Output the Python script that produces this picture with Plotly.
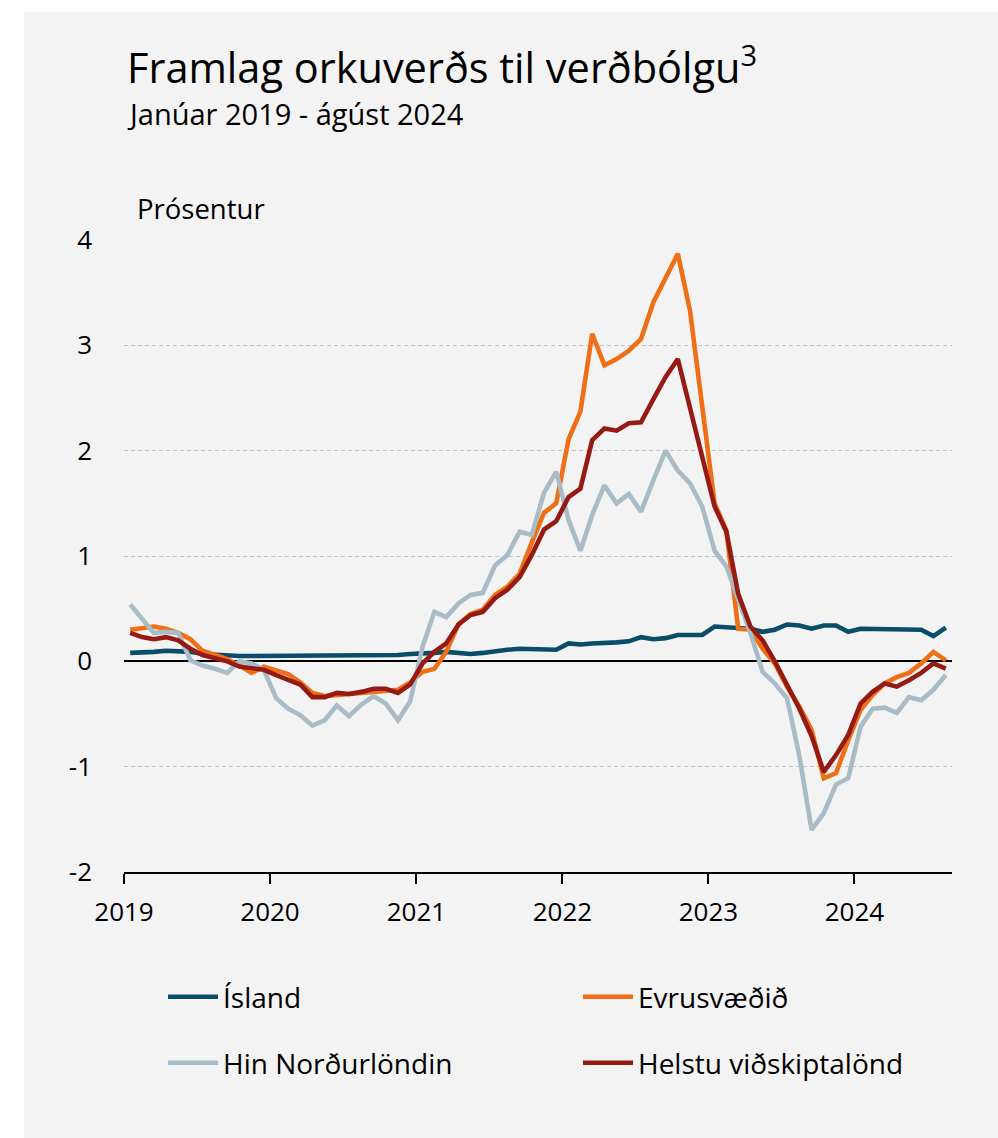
import pandas as pd
import plotly.graph_objects as go

# ---- data (monthly, January 2019 - August 2024) ----
months = pd.date_range("2019-01-01", periods=68, freq="MS")

island = [0.08, 0.08, 0.09, 0.10, 0.10, 0.09, 0.07, 0.06, 0.05, 0.05, 0.05, 0.05,
          0.05, 0.06, 0.06, 0.06, 0.05, 0.05, 0.05, 0.06, 0.06, 0.06, 0.06, 0.07,
          0.07, 0.08, 0.09, 0.08, 0.07, 0.08, 0.10, 0.11, 0.12, 0.12, 0.12, 0.11,
          0.17, 0.16, 0.17, 0.17, 0.18, 0.19, 0.23, 0.21, 0.22, 0.25, 0.25, 0.25,
          0.33, 0.32, 0.32, 0.31, 0.28, 0.30, 0.35, 0.34, 0.31, 0.34, 0.34, 0.28,
          0.31, 0.31, 0.30, 0.30, 0.30, 0.30, 0.24, 0.32]

evrusvaedid = [0.30, 0.31, 0.33, 0.31, 0.27, 0.21, 0.10, 0.06, 0.02, -0.04, -0.11, -0.05,
               -0.08, -0.12, -0.20, -0.30, -0.33, -0.32, -0.32, -0.30, -0.30, -0.29, -0.27, -0.20,
               -0.10, -0.07, 0.09, 0.35, 0.45, 0.49, 0.63, 0.71, 0.83, 1.13, 1.41, 1.50,
               2.11, 2.37, 3.11, 2.81, 2.87, 2.95, 3.06, 3.41, 3.63, 3.87, 3.33, 2.40,
               1.50, 1.24, 0.31, 0.30, 0.12, -0.02, -0.24, -0.43, -0.65, -1.11, -1.06, -0.75,
               -0.46, -0.32, -0.21, -0.15, -0.11, -0.02, 0.09, 0.01]

nordurlond = [0.54, 0.41, 0.27, 0.28, 0.27, 0.01, -0.04, -0.07, -0.11, 0.00, -0.02, -0.08,
              -0.35, -0.45, -0.51, -0.61, -0.56, -0.42, -0.52, -0.41, -0.33, -0.40, -0.56, -0.38,
              0.14, 0.47, 0.42, 0.55, 0.63, 0.65, 0.91, 1.01, 1.23, 1.20, 1.60, 1.80,
              1.34, 1.05, 1.39, 1.67, 1.50, 1.59, 1.42, 1.72, 2.00, 1.81, 1.69, 1.47,
              1.05, 0.90, 0.58, 0.27, -0.10, -0.21, -0.35, -0.90, -1.60, -1.44, -1.17, -1.11,
              -0.62, -0.45, -0.44, -0.49, -0.34, -0.37, -0.27, -0.13]

vidskiptalond = [0.27, 0.23, 0.21, 0.23, 0.20, 0.12, 0.06, 0.03, 0.00, -0.05, -0.07, -0.08,
                 -0.13, -0.18, -0.22, -0.34, -0.34, -0.30, -0.31, -0.29, -0.26, -0.26, -0.30, -0.22,
                 -0.02, 0.09, 0.17, 0.35, 0.44, 0.47, 0.60, 0.68, 0.80, 1.01, 1.25, 1.33,
                 1.56, 1.64, 2.10, 2.21, 2.19, 2.26, 2.27, 2.49, 2.70, 2.87, 2.42, 1.93,
                 1.47, 1.23, 0.64, 0.33, 0.20, 0.00, -0.22, -0.45, -0.71, -1.05, -0.89, -0.70,
                 -0.40, -0.29, -0.21, -0.24, -0.18, -0.11, -0.02, -0.07]

series_names = ["Ísland", "Evrusvæðið", "Hin Norðurlöndin", "Helstu viðskiptalönd"]
series_values = [island, evrusvaedid, nordurlond, vidskiptalond]
series_colors = ["#0a4d69", "#ee6f16", "#a8bcc7", "#961a14"]
series_legend = ["legend", "legend", "legend2", "legend2"]

y_ticks = [-2, -1, 0, 1, 2, 3, 4]

title_text = "Framlag orkuverðs til verðbólgu<sup>3</sup>"
subtitle_text = "Janúar 2019 - ágúst 2024"
unit_text = "Prósentur"

FONT = "Open Sans"
BG = "#f3f3f3"

fig = go.Figure()
for name, vals, col, lg in zip(series_names, series_values, series_colors, series_legend):
    fig.add_trace(go.Scatter(
        x=months, y=vals, name=name, mode="lines",
        xperiod="M1", xperiodalignment="middle",
        line=dict(color=col, width=4.6),
        legend=lg,
    ))

W, H = 998, 1138
ml, mr, mt, mb = 124, 46, 240, 266
pw, ph = W - ml - mr, H - mt - mb

def px2x(p):
    return (p - ml) / pw

def px2y(p):
    return (H - mb - p) / ph

legend_common = dict(
    orientation="h", xanchor="left", yanchor="middle",
    x=px2x(163), entrywidth=350, itemwidth=50,
    font=dict(family=FONT, size=28, color="#000000"),
    bgcolor="rgba(0,0,0,0)", traceorder="normal",
)

fig.update_layout(
    width=W, height=H,
    margin=dict(l=ml, r=mr, t=mt, b=mb, autoexpand=False),
    paper_bgcolor="#ffffff",
    plot_bgcolor=BG,
    font=dict(family=FONT, size=26, color="#000000"),
    showlegend=True,
    legend=dict(legend_common, y=px2y(997)),
    legend2=dict(legend_common, y=px2y(1063)),
    shapes=[dict(type="rect", xref="paper", yref="paper",
                 x0=px2x(24), x1=px2x(W + 5), y0=px2y(H + 5), y1=px2y(12),
                 fillcolor=BG, line=dict(width=0), layer="below")],
    annotations=[
        dict(text=title_text, xref="paper", yref="paper", x=px2x(125), y=px2y(65),
             xanchor="left", yanchor="middle", showarrow=False,
             font=dict(family=FONT, size=41.5, color="#000000")),
        dict(text=subtitle_text, xref="paper", yref="paper", x=px2x(125), y=px2y(113),
             xanchor="left", yanchor="middle", showarrow=False,
             font=dict(family=FONT, size=29, color="#000000")),
        dict(text=unit_text, xref="paper", yref="paper", x=px2x(135), y=px2y(209),
             xanchor="left", yanchor="middle", showarrow=False,
             font=dict(family=FONT, size=27.5, color="#000000")),
    ],
)

fig.update_xaxes(
    type="date",
    range=["2019-01-01", "2024-09-01"],
    dtick="M12", tick0="2019-01-01", tickformat="%Y",
    showgrid=False, zeroline=False,
    showline=True, linecolor="#000000", linewidth=2,
    ticks="outside", ticklen=10, tickwidth=2, tickcolor="#000000",
    tickfont=dict(family=FONT, size=26, color="#000000"),
    ticklabelstandoff=6,
)
fig.update_yaxes(
    range=[-2, 4], tickvals=y_ticks, ticktext=[str(v) for v in y_ticks],
    showgrid=True, gridcolor="#c4c4c4", gridwidth=1, griddash="4px,3px",
    zeroline=True, zerolinecolor="#000000", zerolinewidth=2,
    showline=False, ticks="",
    tickfont=dict(family=FONT, size=26, color="#000000"),
    ticklabelstandoff=31,
)

fig.write_html("out.html", config={"displayModeBar": False},
               post_script="document.body.style.margin='0';document.body.style.overflow='hidden';")
